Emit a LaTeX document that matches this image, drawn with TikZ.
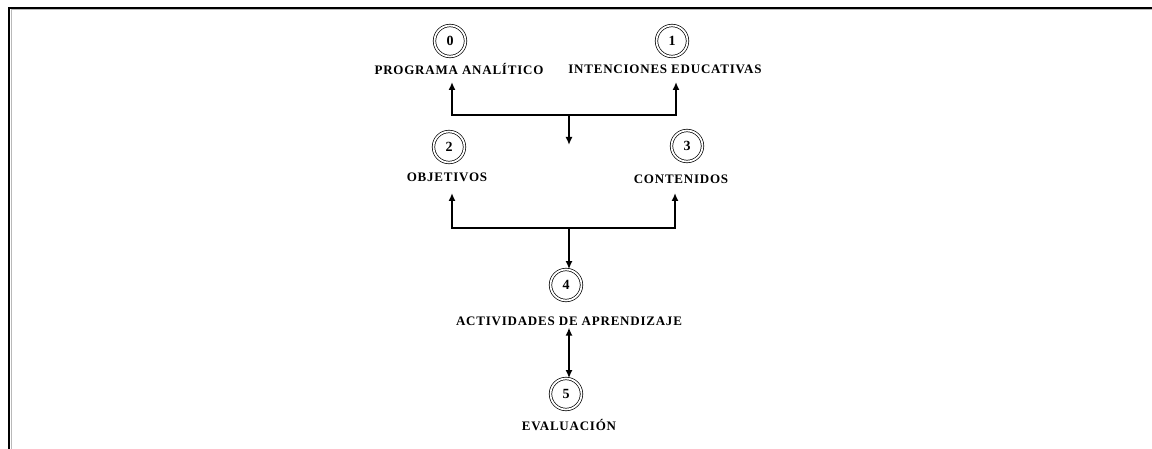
\documentclass[tikz,border=0pt]{standalone}
\usepackage{fontspec}
\setmainfont{Liberation Serif}
\usetikzlibrary{arrows.meta,positioning}

\begin{document}
\begin{tikzpicture}[x=1pt,y=-1pt,
  num/.style={circle, draw, double, double distance=1.8pt, line width=0.7pt,
    minimum size=31pt, inner sep=0pt, font=\fontsize{14}{14}\selectfont\bfseries},
  lab/.style={font=\fontsize{13}{14}\selectfont\bfseries\addfontfeature{LetterSpace=6}, inner sep=2pt},
  arr/.style={line width=1.8pt, -{Latex[length=8pt,width=7pt]}}]

  \useasboundingbox (0,0) rectangle (1152,449);

  % frame
  \draw[gray!55, line width=1pt] (11,449) -- (11,10) -- (1152,10);
  \draw[line width=1.8pt] (9,449) -- (9,8) -- (1152,8);

  \node [num] (c0) at (450,41) {0};
  \node [lab] (l0) at (459,69) {PROGRAMA ANALÍTICO};

  \node [num] (c1) at (672,41) {1};
  \node [lab] (l1) at (665,69) {INTENCIONES EDUCATIVAS};

  %%

  \node [num] (c2) at (449,147) {2};
  \node [lab] (l2) at (447,177) {OBJETIVOS};

  \node [num] (c3) at (687,146) {3};
  \node [lab] (l3) at (681,179) {CONTENIDOS};

  %%

  \node [num] (c4) at (566,285) {4};
  \node [lab] (l4) at (569,321) {ACTIVIDADES DE APRENDIZAJE};

  \node [num] (c5) at (566,394) {5};
  \node [lab] (l5) at (569,425) {EVALUACIÓN};

  %%

  \coordinate (j1) at (569,115);
  \coordinate (t0) at (452,82);
  \coordinate (t1) at (676,82);
  \coordinate (e1) at (569,145);
  \draw[arr] (j1) -| (t0);
  \draw[arr] (j1) -| (t1);
  \draw[arr] (j1) -- (e1);

  \coordinate (j2) at (569,228);
  \coordinate (t2) at (452,193);
  \coordinate (t3) at (675,193);
  \draw[arr] (j2) -| (t2);
  \draw[arr] (j2) -| (t3);
  \draw[arr] (j2) -- (j2 |- c4.north);

  \draw[arr, {Latex[length=8pt,width=7pt]}-{Latex[length=8pt,width=7pt]}]
    (j2 |- l4.south) -- (j2 |- c5.north);

\end{tikzpicture}
\end{document}
